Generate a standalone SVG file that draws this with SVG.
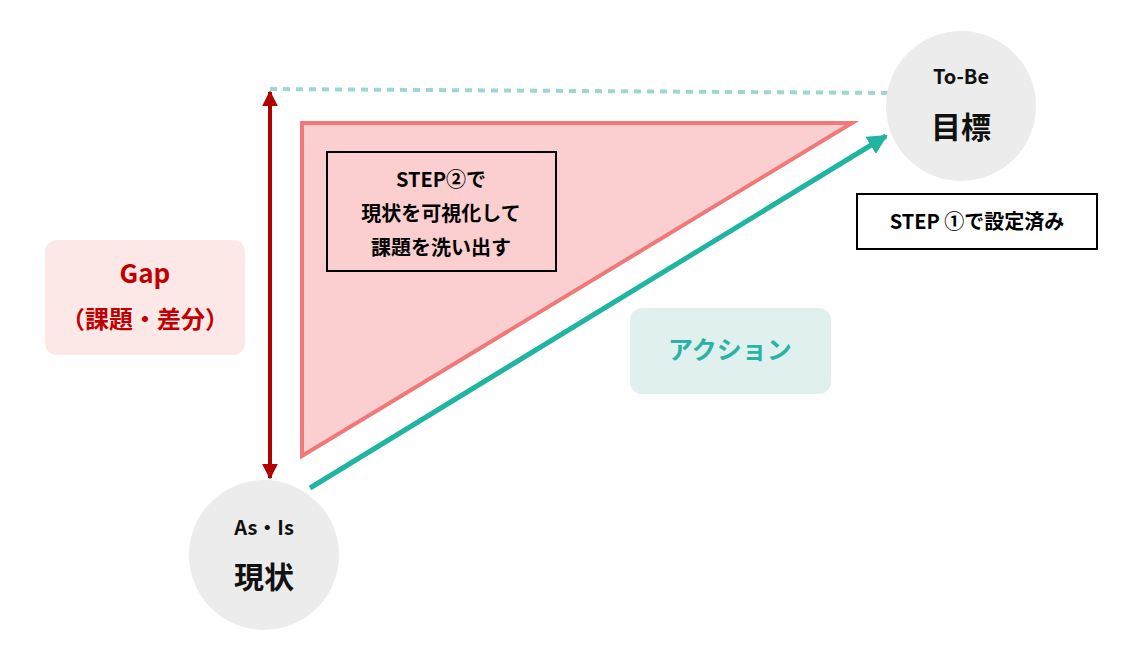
<svg xmlns="http://www.w3.org/2000/svg" width="1139" height="650" viewBox="0 0 1139 650">
<style>
text{font-family:"Noto Sans CJK JP","Noto Sans",sans-serif;font-weight:bold;text-anchor:middle}
.c{fill:#ececec}
.b{fill:#000;font-size:20px}
</style>
<defs>
<marker id="r" viewBox="0 0 10 10" refX="9" refY="5" markerWidth="4" markerHeight="4" orient="auto-start-reverse"><path d="M0,0L10,5L0,10z" fill="#b00000"/></marker>
<marker id="t" viewBox="0 0 10 10" refX="9" refY="5" markerWidth="4" markerHeight="4" orient="auto"><path d="M0,0L10,5L0,10z" fill="#20b5a0"/></marker>
</defs>
<rect width="1139" height="650" fill="#fff"/>
<g id="connectors">
<line x1="270" y1="89" x2="888" y2="93" stroke="#9dd6d3" stroke-width="4" stroke-dasharray="7,6"/>
<polygon points="302,123 852,123 302,456" fill="#fbcfcf" stroke="#f07878" stroke-width="4"/>
<line x1="270" y1="92" x2="270" y2="478" stroke="#b00000" stroke-width="4" marker-start="url(#r)" marker-end="url(#r)"/>
<line x1="310" y1="488" x2="886" y2="136" stroke="#20b5a0" stroke-width="5" marker-end="url(#t)"/>
</g>
<g id="tobe"><circle class="c" cx="961" cy="106" r="75"/>
<text x="961" y="84" font-size="20" fill="#111" font-weight="normal">To-Be</text>
<text x="961" y="138" font-size="30" fill="#111">目標</text></g>
<g id="asis"><circle class="c" cx="264" cy="555" r="75"/>
<text x="264" y="535" font-size="20" fill="#111" font-weight="normal">As・Is</text>
<text x="264" y="588" font-size="30" fill="#111">現状</text></g>
<g id="gap"><rect x="45" y="240" width="200" height="115" rx="12" fill="#fde8e8"/>
<text x="145" y="283" font-size="26" fill="#c00000">Gap</text>
<text x="145" y="328" font-size="24" fill="#c00000">（課題・差分）</text></g>
<g id="action"><rect x="630" y="308" width="201" height="86" rx="12" fill="#dff0ef"/>
<text x="730" y="359" font-size="25" fill="#2ab3a5">アクション</text></g>
<g id="step2"><rect x="327" y="152" width="229" height="119" fill="none" stroke="#000" stroke-width="2"/>
<text class="b" x="441" y="187">STEP②で</text>
<text class="b" x="441" y="221">現状を可視化して</text>
<text class="b" x="441" y="255">課題を洗い出す</text></g>
<g id="step1"><rect x="857" y="194" width="240" height="55" fill="#fff" stroke="#000" stroke-width="2"/>
<text class="b" x="977" y="229">STEP ①で設定済み</text></g>
</svg>
